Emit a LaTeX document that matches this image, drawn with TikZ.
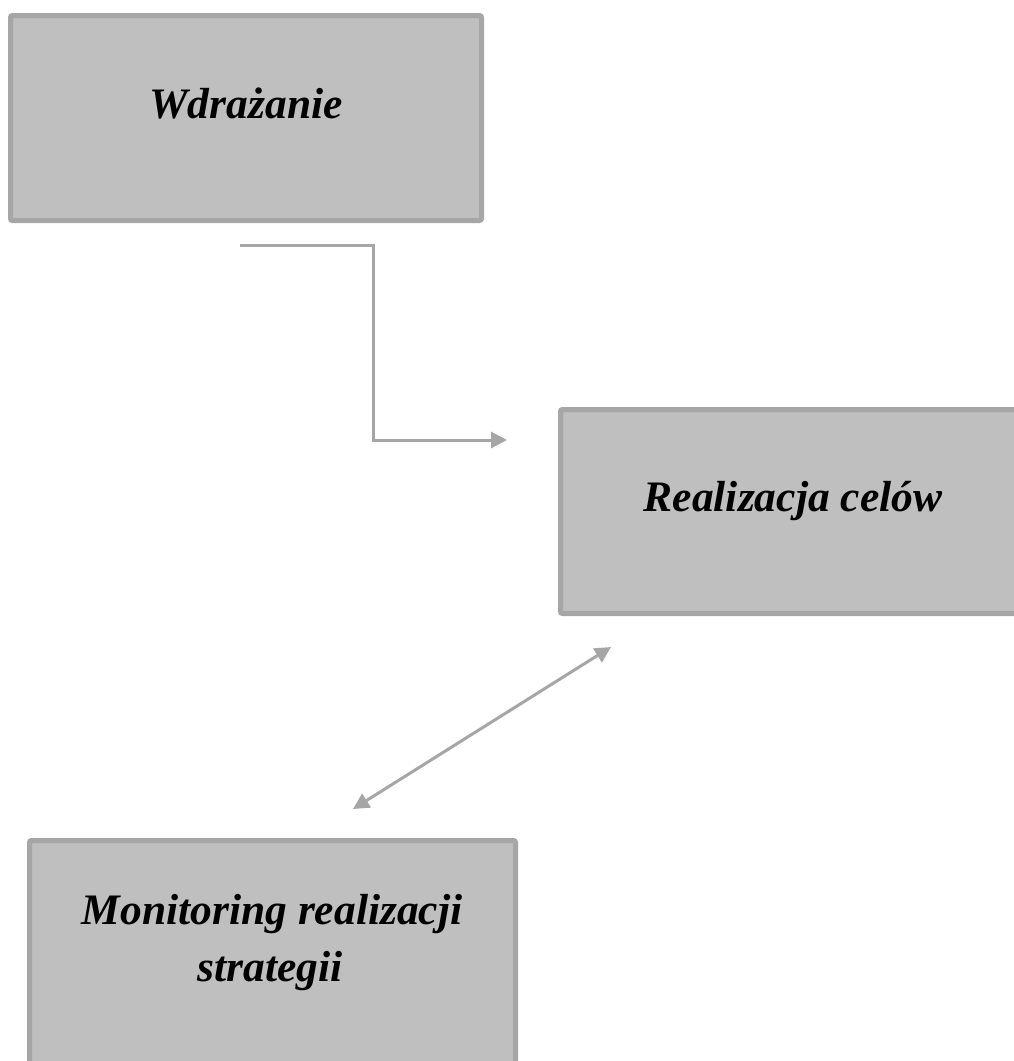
\documentclass[tikz,border=0pt]{standalone}
\usepackage{fontspec}
\setmainfont{Liberation Serif}
\usetikzlibrary{arrows.meta}
\definecolor{boxfill}{HTML}{BFBFBF}
\definecolor{boxline}{HTML}{A6A6A6}
\tikzset{
  box/.style={draw=boxline, fill=boxfill, line width=5pt, rounded corners=2pt, inner sep=0pt, outer sep=0pt},
  label/.style={font=\fontsize{43.5}{57}\selectfont\bfseries\itshape, text=black, inner sep=0pt, anchor=base},
  conn/.style={draw=boxline, line width=3pt, -{Triangle[length=16pt,width=16pt]}},
  dconn/.style={draw=boxline, line width=3pt, {Triangle[length=16pt,width=16pt]}-{Triangle[length=16pt,width=16pt]}}
}
\begin{document}
\begin{tikzpicture}[x=1pt,y=-1pt]
\useasboundingbox (0,0) rectangle (1014,1061);
\clip (0,0) rectangle (1014,1061);
\node[box, minimum width=471pt, minimum height=205pt] (b1) at (246,118) {};
\node[box, minimum width=469.5pt, minimum height=204pt] (b2) at (795.25,511.5) {};
\node[box, minimum width=486pt, minimum height=244.5pt] (b3) at (272.5,962.75) {};
\node[label] (t1) at (246,118) {Wdrażanie};
\node[label] (t2) at (793,511) {Realizacja celów};
\node[label] (t3a) at (272,924) {Monitoring realizacji};
\node[label] (t3b) at (270,981) {strategii};
\coordinate (c1s) at (240,245);
\coordinate (c1a) at (373,245);
\coordinate (c1b) at (373,440);
\coordinate (c1e) at (507,440);
\draw[conn] (c1s) -- (c1a) -- (c1b) -- (c1e);
\coordinate (c2s) at (353,809);
\coordinate (c2e) at (611,647);
\draw[dconn] (c2s) -- (c2e);
\end{tikzpicture}
\end{document}
